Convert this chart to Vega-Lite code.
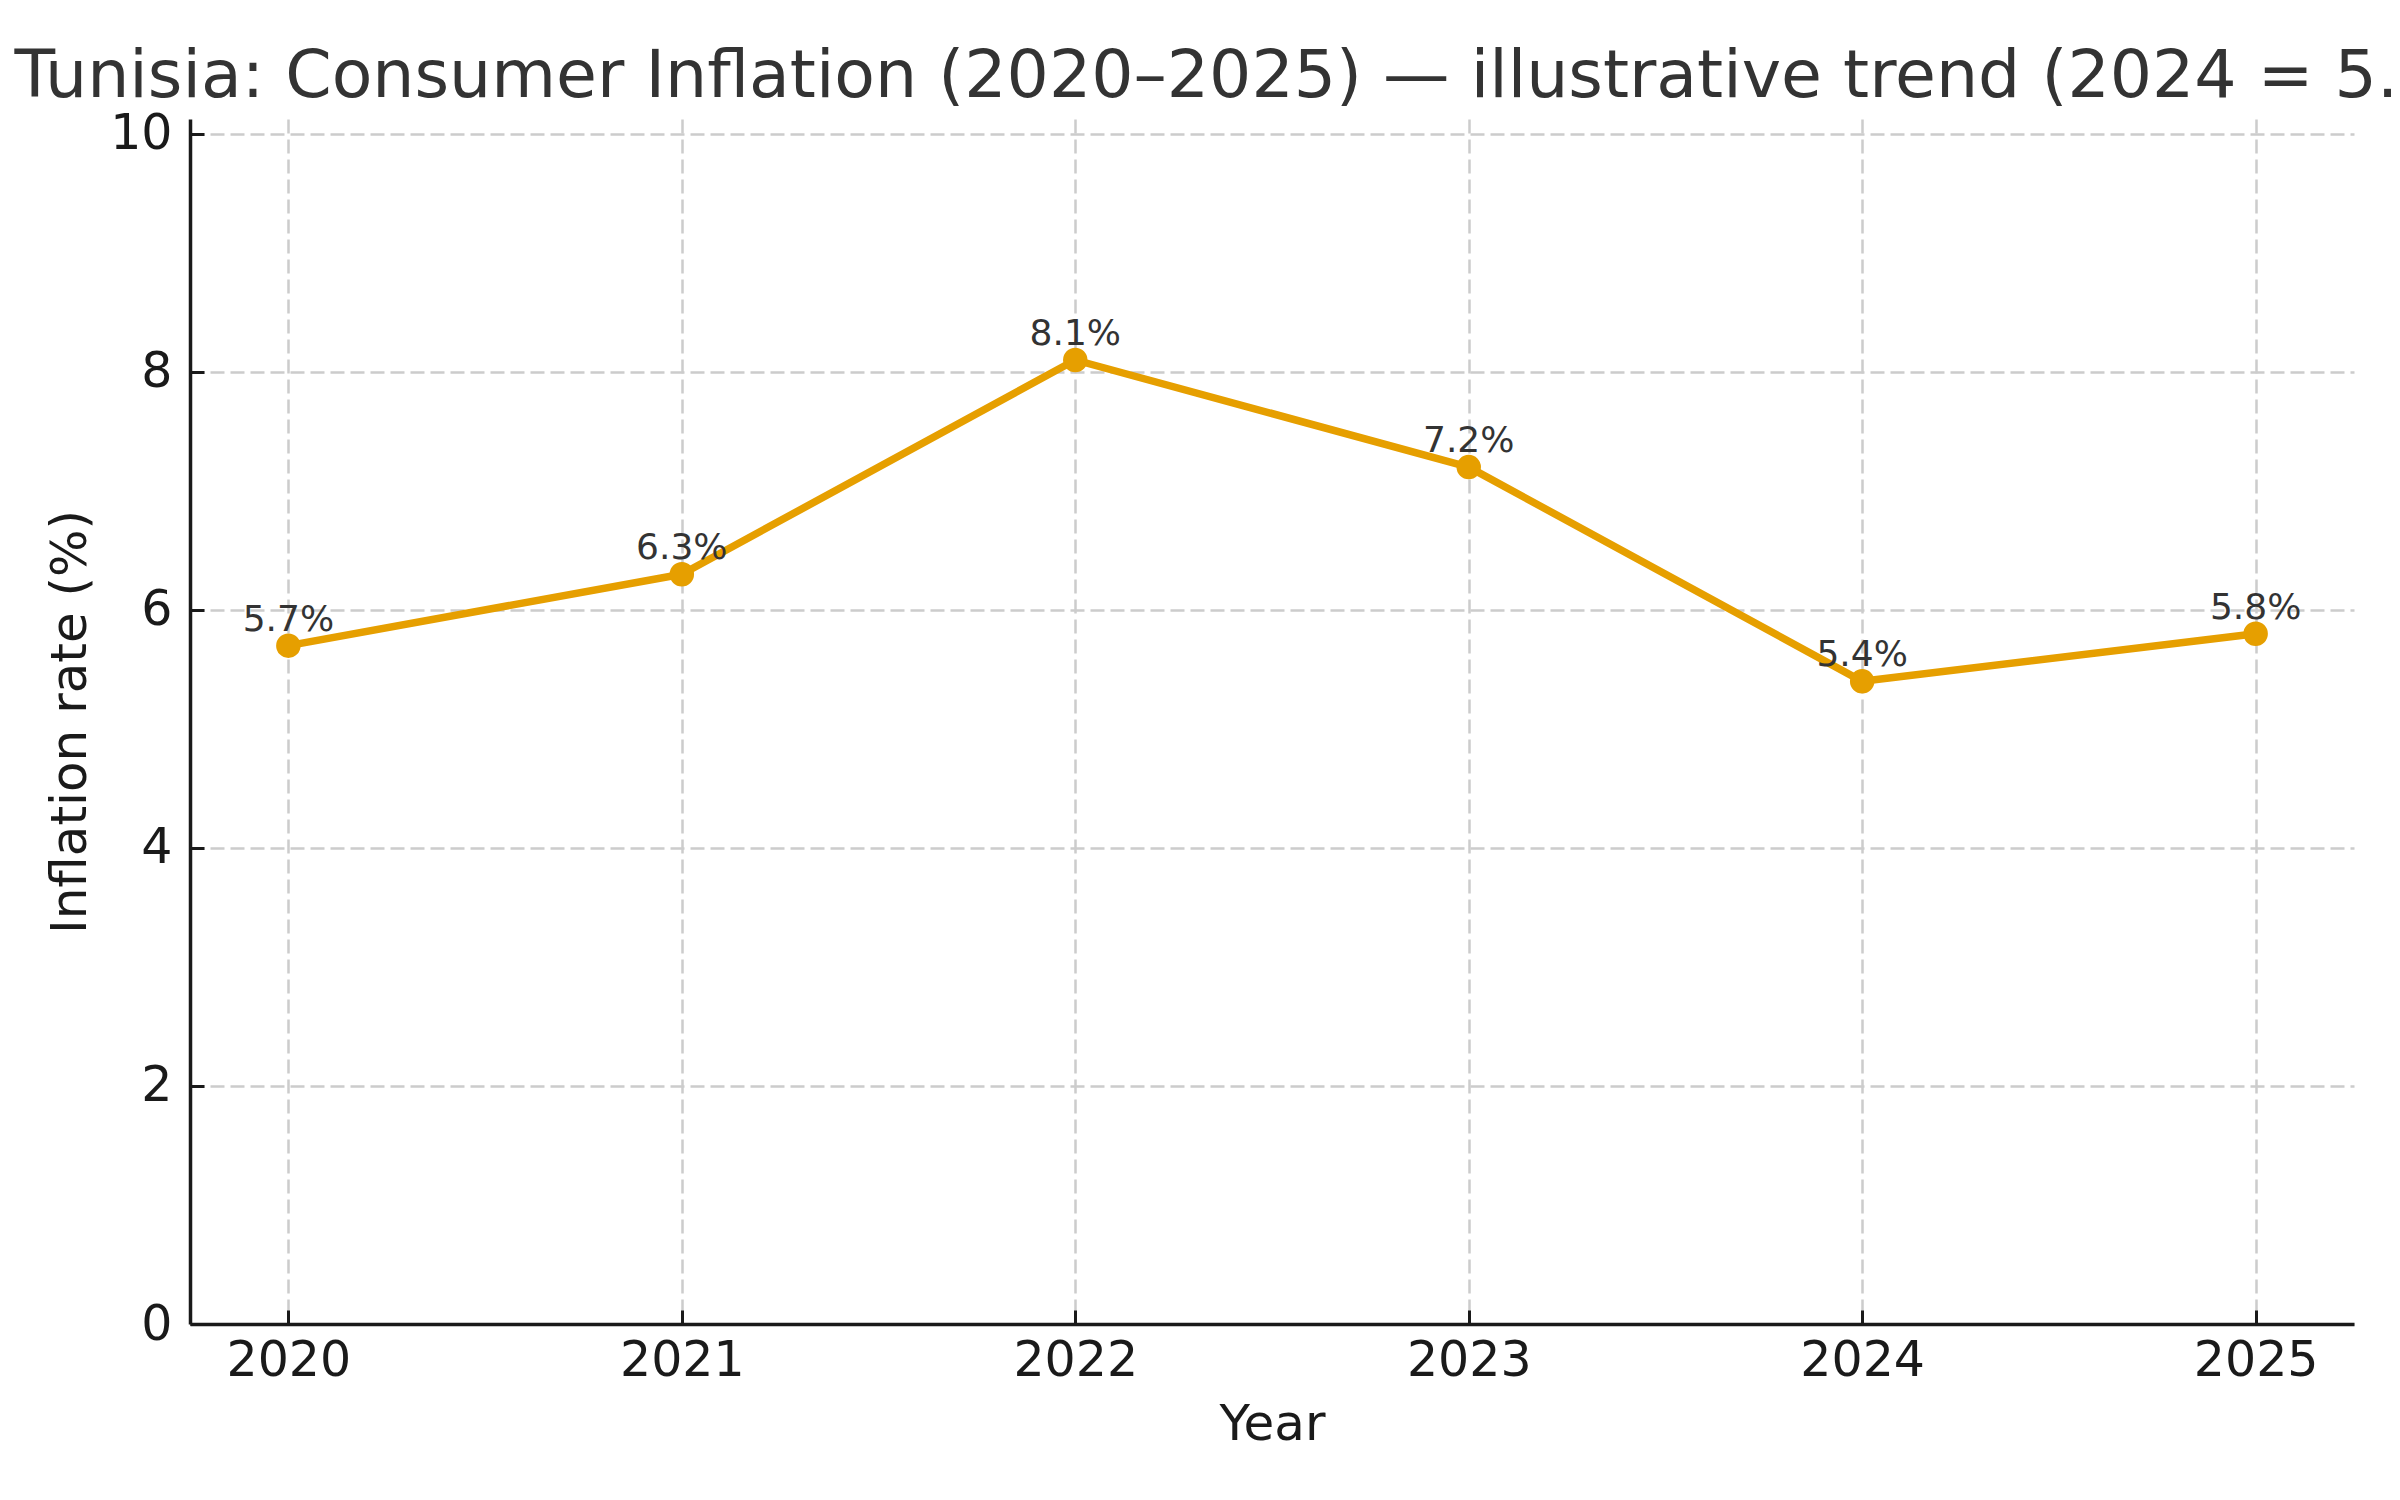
{
  "$schema": "https://vega.github.io/schema/vega-lite/v6.json",
  "width": 2164,
  "height": 1205,
  "autosize": {"type": "none"},
  "padding": {"left": 190, "top": 119, "right": 46, "bottom": 176},
  "background": "white",
  "title": {
    "text": "Tunisia: Consumer Inflation (2020–2025) — illustrative trend (2024 = 5.4%)",
    "fontSize": 66.5,
    "font": "DejaVu Sans",
    "fontWeight": "normal",
    "color": "#333333",
    "anchor": "middle",
    "frame": "group",
    "baseline": "alphabetic",
    "offset": -54
  },
  "data": {
    "values": [
      {"year": 2020, "rate": 5.7, "label": "5.7%"},
      {"year": 2021, "rate": 6.3, "label": "6.3%"},
      {"year": 2022, "rate": 8.1, "label": "8.1%"},
      {"year": 2023, "rate": 7.2, "label": "7.2%"},
      {"year": 2024, "rate": 5.4, "label": "5.4%"},
      {"year": 2025, "rate": 5.8, "label": "5.8%"}
    ]
  },
  "encoding": {
    "x": {
      "field": "year",
      "type": "quantitative",
      "scale": {"domain": [2019.75, 2025.25], "nice": false, "zero": false},
      "axis": {
        "title": "Year",
        "values": [2020, 2021, 2022, 2023, 2024, 2025],
        "format": "d",
        "labelPadding": 26,
        "titlePadding": 14
      }
    },
    "y": {
      "field": "rate",
      "type": "quantitative",
      "scale": {"domain": [0, 10.125], "nice": false},
      "axis": {
        "title": "Inflation rate (%)",
        "values": [0, 2, 4, 6, 8, 10],
        "labelPadding": 32,
        "titlePadding": 14
      }
    }
  },
  "layer": [
    {
      "mark": {"type": "line", "color": "#E69F00", "strokeWidth": 7.5, "strokeCap": "round", "strokeJoin": "round"}
    },
    {
      "mark": {"type": "point", "filled": true, "color": "#E69F00", "opacity": 1, "size": 600, "shape": "circle"}
    },
    {
      "mark": {"type": "text", "dy": -15, "baseline": "alphabetic", "align": "center", "fontSize": 36, "color": "#333333", "font": "DejaVu Sans"},
      "encoding": {"text": {"field": "label"}}
    }
  ],
  "config": {
    "font": "DejaVu Sans",
    "view": {"stroke": null},
    "axis": {
      "labelFont": "DejaVu Sans",
      "titleFont": "DejaVu Sans",
      "labelFontSize": 49,
      "titleFontSize": 50,
      "titleFontWeight": "normal",
      "labelColor": "#1a1a1a",
      "titleColor": "#1a1a1a",
      "domainColor": "#1a1a1a",
      "domainWidth": 3.5,
      "tickColor": "#1a1a1a",
      "tickWidth": 3,
      "tickSize": -14,
      "grid": true,
      "gridColor": "#cccccc",
      "gridWidth": 2.5,
      "gridDash": [14, 6],
      "labelFlush": false,
      "labelOverlap": false
    }
  }
}
